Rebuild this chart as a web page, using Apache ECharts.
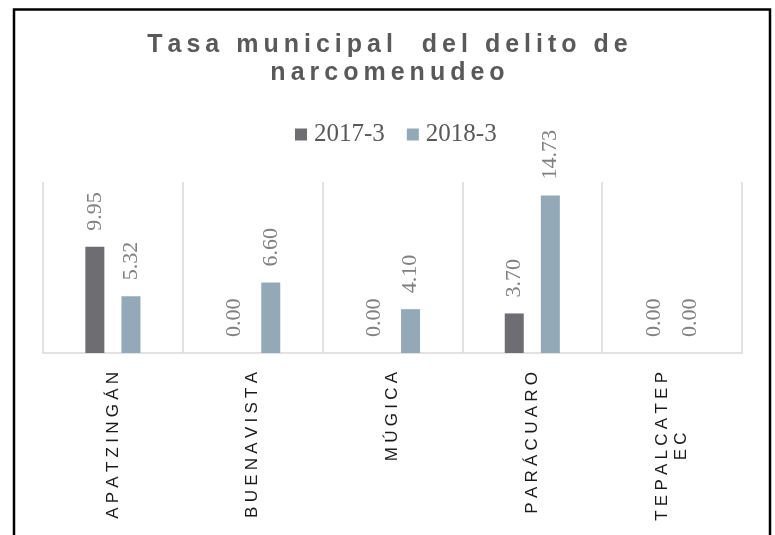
<!DOCTYPE html>
<html>
<head>
<meta charset="utf-8">
<script src="https://cdn.jsdelivr.net/npm/echarts@6/dist/echarts.min.js"></script>
<style>
  html, body { margin: 0; padding: 0; background: #fff; }
  #chart { width: 775px; height: 535px; }
</style>
</head>
<body>
<div id="chart"></div>
<script>
// Municipal narcomenudeo rates, third quarter of 2017 vs 2018
const titleText = 'Tasa municipal  del delito de\nnarcomenudeo';
const municipios = ['APATZINGÁN', 'BUENAVISTA', 'MÚGICA', 'PARÁCUARO', 'TEPALCATEPEC'];
const seriesNames = ['2017-3', '2018-3'];
const values2017 = [9.95, 0.00, 0.00, 3.70, 0.00];
const values2018 = [5.32, 6.60, 4.10, 14.73, 0.00];

// widen the tracking of a string by putting a narrow space between its letters
function track(str, gap) {
  return str.split('\n').map(line => Array.from(line).join(gap)).join('\n');
}

// category names wrap after ten letters, each line centred in its block
function wrapName(name) {
  const lines = [];
  for (let i = 0; i < name.length; i += 10) lines.push(name.slice(i, i + 10));
  return lines.map(l => '{c|' + track(l, '\u2005') + '}').join('\n');
}

const chart = echarts.init(document.getElementById('chart'), null, { renderer: 'canvas' });

const labelStyle = {
  show: true,
  position: 'top',
  rotate: 90,
  align: 'left',
  verticalAlign: 'middle',
  distance: 16,
  fontFamily: 'Liberation Serif',
  fontSize: 22,
  color: '#808080',
  formatter: p => p.value.toFixed(2)
};

chart.setOption({
  backgroundColor: '#ffffff',
  animation: false,
  title: {
    text: track(titleText, '\u2009'),
    left: 'center',
    top: 26,
    textStyle: {
      fontFamily: 'Liberation Sans',
      fontWeight: 'bold',
      fontSize: 25,
      lineHeight: 28,
      color: '#595959'
    }
  },
  legend: {
    data: seriesNames,
    top: 117,
    left: 290,
    itemWidth: 12,
    itemHeight: 12,
    itemGap: 22,
    icon: 'rect',
    textStyle: {
      fontFamily: 'Liberation Serif',
      fontSize: 25,
      padding: [0, 0, 0, 2],
      color: '#595959'
    }
  },
  grid: { left: 43, right: 33, top: 182, bottom: 182, containLabel: false },
  xAxis: {
    type: 'category',
    data: municipios,
    axisTick: { show: false },
    axisLine: { lineStyle: { color: '#d9d9d9', width: 1.5 } },
    splitLine: { show: true, lineStyle: { color: '#d9d9d9', width: 1.5 } },
    axisLabel: {
      interval: 0,
      rotate: 90,
      margin: 19,
      fontFamily: 'Liberation Sans',
      fontSize: 17,
      lineHeight: 19,
      color: '#1a1a1a',
      formatter: wrapName,
      rich: {
        c: {
          align: 'center',
          fontFamily: 'Liberation Sans',
          fontSize: 17,
          lineHeight: 19,
          color: '#1a1a1a'
        }
      }
    }
  },
  yAxis: {
    type: 'value',
    min: 0,
    max: 16,
    show: false,
    splitLine: { show: false }
  },
  series: [
    {
      name: seriesNames[0],
      type: 'bar',
      data: values2017,
      barWidth: 19,
      barGap: '90%',
      itemStyle: { color: '#6e6d72' },
      label: labelStyle
    },
    {
      name: seriesNames[1],
      type: 'bar',
      data: values2018,
      barWidth: 19,
      itemStyle: { color: '#94a9b8' },
      label: labelStyle
    }
  ],
  graphic: [{
    type: 'rect',
    silent: true,
    z: 100,
    shape: { x: 14, y: 9.5, width: 756, height: 600 },
    style: { fill: 'none', stroke: '#000', lineWidth: 2.5 }
  }]
});
</script>
</body>
</html>
